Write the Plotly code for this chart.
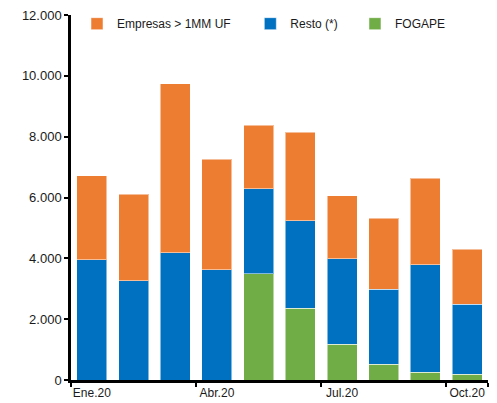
import plotly.graph_objects as go

# monthly values (millions of pesos)
months = ["Ene.20", "Feb.20", "Mar.20", "Abr.20", "May.20",
          "Jun.20", "Jul.20", "Ago.20", "Sep.20", "Oct.20"]
fogape = [0, 0, 0, 0, 3490, 2360, 1170, 520, 260, 190]
resto = [3950, 3270, 4180, 3620, 2790, 2880, 2810, 2460, 3530, 2300]
empresas = [2760, 2830, 5560, 3630, 2100, 2910, 2070, 2330, 2840, 1810]
label_months = ["Ene.20", "Abr.20", "Jul.20", "Oct.20"]
y_ticks = [0, 2000, 4000, 6000, 8000, 10000, 12000]

fig = go.Figure()
edge = dict(color="rgba(255,255,255,0.5)", width=1)
fig.add_trace(go.Bar(x=months, y=fogape, name="FOGAPE", legend="legend3",
                     marker=dict(color="#70AD47", line=edge)))
fig.add_trace(go.Bar(x=months, y=resto, name="Resto (*)", legend="legend2",
                     marker=dict(color="#0070C0", line=edge)))
fig.add_trace(go.Bar(x=months, y=empresas, name="Empresas > 1MM UF", legend="legend",
                     marker=dict(color="#ED7D31", line=edge)))

leg = dict(orientation="h", y=1.016, yanchor="top", xanchor="left",
           font=dict(size=12), bgcolor="rgba(0,0,0,0)", itemwidth=30)
fig.update_layout(
    width=497, height=403,
    margin=dict(l=71, r=9, t=9, b=23),
    barmode="stack", bargap=0.28,
    plot_bgcolor="white", paper_bgcolor="white",
    separators=",.",
    font=dict(family="Liberation Sans, Arial", size=12, color="#1a1a1a"),
    showlegend=True,
    legend=dict(leg, x=0.0144),
    legend2=dict(leg, x=0.43),
    legend3=dict(leg, x=0.681),
)
fig.update_xaxes(
    type="category", range=[-0.5, 9.5], automargin=False, tickangle=0,
    tickmode="array", tickvals=label_months, ticktext=label_months,
    tickson="boundaries", ticks="outside", ticklen=4, tickwidth=2, tickcolor="black",
    showline=True, linecolor="black", linewidth=2.5, showgrid=False,
    tickfont=dict(size=12),
)
fig.update_yaxes(
    range=[0, 12000], tickmode="array", tickvals=y_ticks, tickformat=",d",
    automargin=False,
    ticks="outside", ticklen=4, tickwidth=2, tickcolor="black",
    showline=True, linecolor="black", linewidth=2.5, showgrid=False,
    zeroline=False, tickfont=dict(size=13),
)

fig.write_html("out.html", config={"displayModeBar": False},
               post_script="document.body.style.margin='0';")
